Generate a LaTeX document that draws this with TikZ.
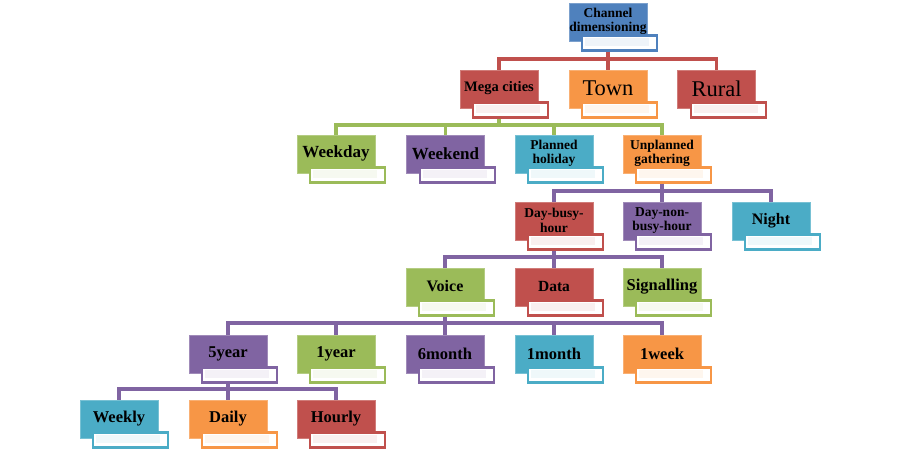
\documentclass[tikz,border=0pt]{standalone}
\usepackage{fontspec}
\setmainfont{Liberation Serif}
\usetikzlibrary{calc}
\definecolor{cblue}{HTML}{4F81BD}
\definecolor{cred}{HTML}{C0504D}
\definecolor{cgreen}{HTML}{9BBB59}
\definecolor{cpurple}{HTML}{8064A2}
\definecolor{caqua}{HTML}{4BACC6}
\definecolor{corange}{HTML}{F79646}

% one SmartArt-like entry: name, position, colour, font size, text
\newcommand{\tierbox}[5]{%
  \node[mainbox=#3] (#1) at (#2) {};
  \node[tailbox=#3, anchor=north east] (#1-w) at ([xshift=11pt,yshift=7pt]#1.south east) {};
  \node[boxtext, font=\fontsize#4\selectfont\bfseries] (#1-t) at ([yshift=0.5pt]#1.center) {#5};
}

\begin{document}
\begin{tikzpicture}[
    x=1pt, y=-1pt,
    mainbox/.style={rectangle, fill=#1, draw=#1!75!white, line width=0.8pt, minimum width=78pt, minimum height=38pt, inner sep=0pt},
    tailbox/.style={rectangle, fill=white, draw=#1, line width=2.4pt, minimum width=75pt, minimum height=15pt, inner sep=0pt,
      path picture={\fill[#1!9] ([shift={(3pt,-2pt)}]path picture bounding box.north west) rectangle ([shift={(-8pt,5pt)}]path picture bounding box.south east);}},
    boxtext/.style={align=center, inner sep=0pt, text=black},
    conn/.style={draw=#1, line width=3.2pt}
  ]
  \useasboundingbox (0,0) rectangle (900,450);

  % top
  \tierbox{chan}{608,22}{cblue}{{13.5}{14.5}}{Channel\\dimensioning}

  % level 1
  \tierbox{mega}{499,89}{cred}{{14.5}{16}}{Mega cities}
  \tierbox{town}{608,89}{corange}{{22.5}{24}}{\mdseries Town}
  \tierbox{rural}{716.5,89}{cred}{{22.5}{24}}{\mdseries Rural}

  % level 2
  \tierbox{wkday}{336,154}{cgreen}{{17}{18}}{Weekday}
  \tierbox{wkend}{445.5,154}{cpurple}{{17}{18}}{Weekend}
  \tierbox{plan}{554,154}{caqua}{{13.5}{14.5}}{Planned\\holiday}
  \tierbox{unplan}{662,154}{corange}{{13.5}{14.5}}{Unplanned\\gathering}

  % level 3
  \tierbox{busy}{554,221}{cred}{{13.5}{14.5}}{Day-busy-\\hour}
  \tierbox{nonbusy}{662,221}{cpurple}{{13.5}{14.5}}{Day-non-\\busy-hour}
  \tierbox{night}{771,221}{caqua}{{16}{17}}{Night}

  % level 4
  \tierbox{voice}{445,287}{cgreen}{{16}{17}}{Voice}
  \tierbox{data}{554,287}{cred}{{15.5}{17}}{Data}
  \tierbox{signal}{662,287}{cgreen}{{16.5}{17}}{Signalling}

  % level 5
  \tierbox{yrfive}{228,354}{cpurple}{{16.5}{17}}{5year}
  \tierbox{yrone}{336,354}{cgreen}{{16.5}{17}}{1year}
  \tierbox{mosix}{445,354}{cpurple}{{16.5}{17}}{6month}
  \tierbox{moone}{554,354}{caqua}{{16.5}{17}}{1month}
  \tierbox{wkone}{662,354}{corange}{{16.5}{17}}{1week}

  % level 6
  \tierbox{weekly}{119,419}{caqua}{{16.5}{17}}{Weekly}
  \tierbox{daily}{228,419}{corange}{{16.5}{17}}{Daily}
  \tierbox{hourly}{336,419}{cred}{{16.5}{17}}{Hourly}

  % bars of the connectors
  \coordinate (bar0) at (0,59);
  \coordinate (bar1) at (0,125);
  \coordinate (bar2) at (0,191);
  \coordinate (bar3) at (0,257);
  \coordinate (bar4) at (0,323);
  \coordinate (bar5) at (0,389);

  % connectors
  \foreach \c in {mega,town,rural}
    \draw[conn=cred] (chan |- chan-w.south) |- (bar0 -| \c.north) -- (\c.north);
  \foreach \c in {wkday,wkend,plan,unplan}
    \draw[conn=cgreen] (mega |- mega-w.south) |- (bar1 -| \c.north) -- (\c.north);
  \foreach \c in {busy,nonbusy,night}
    \draw[conn=cpurple] (unplan |- unplan-w.south) |- (bar2 -| \c.north) -- (\c.north);
  \foreach \c in {voice,data,signal}
    \draw[conn=cpurple] (busy |- busy-w.south) |- (bar3 -| \c.north) -- (\c.north);
  \foreach \c in {yrfive,yrone,mosix,moone,wkone}
    \draw[conn=cpurple] (voice |- voice-w.south) |- (bar4 -| \c.north) -- (\c.north);
  \foreach \c in {weekly,daily,hourly}
    \draw[conn=cpurple] (yrfive |- yrfive-w.south) |- (bar5 -| \c.north) -- (\c.north);
\end{tikzpicture}
\end{document}
